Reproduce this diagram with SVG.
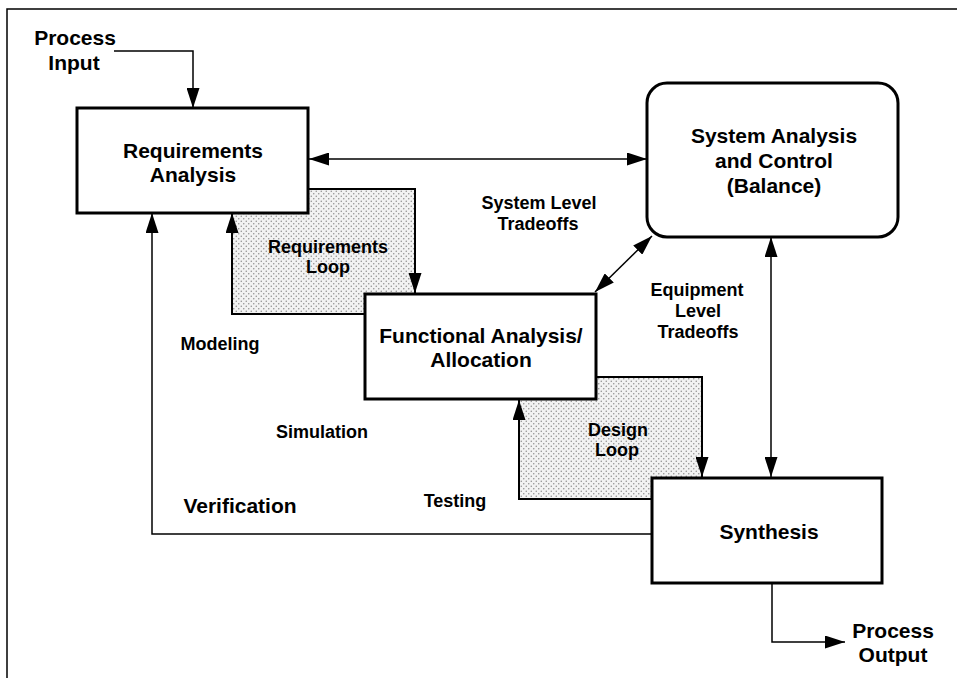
<svg xmlns="http://www.w3.org/2000/svg" width="957" height="678" viewBox="0 0 957 678">
<style>
text{font-family:"Liberation Sans",Arial,sans-serif;font-weight:bold;fill:#000;text-anchor:middle}
.big{font-size:21px}
.sm{font-size:18px}
.box{fill:#fff;stroke:#000;stroke-width:3}
.loop{fill:url(#dots);stroke:#000;stroke-width:2}
.c{fill:none;stroke:#000;stroke-width:1.5}
.c2{fill:none;stroke:#000;stroke-width:2}
</style>
<defs>
<pattern id="dots" width="5" height="5" patternUnits="userSpaceOnUse">
<rect width="5" height="5" fill="#f2f2f2"/>
<circle cx="1.25" cy="1.25" r="0.75" fill="#8c8c8c"/>
<circle cx="3.75" cy="3.75" r="0.75" fill="#8c8c8c"/>
</pattern>
<marker id="ah" markerUnits="userSpaceOnUse" markerWidth="20" markerHeight="13" viewBox="0 0 20 13" refX="20" refY="6.5" orient="auto-start-reverse">
<path d="M0,0 L20,6.5 L0,13 z" fill="#000"/>
</marker>
</defs>

<g id="frame">
<path d="M7,678 V9 H957" class="c"/>
</g>

<g id="loops">
<g id="requirements-loop">
<rect x="232" y="189" width="183" height="125" class="loop"/>
<text class="sm" x="328" y="253">Requirements</text>
<text class="sm" x="328" y="273">Loop</text>
</g>
<g id="design-loop">
<rect x="519" y="377" width="183" height="122" class="loop"/>
<text class="sm" x="618" y="436">Design</text>
<text class="sm" x="617" y="456">Loop</text>
</g>
</g>

<g id="requirements-analysis">
<rect x="77" y="108" width="231" height="105" class="box"/>
<text class="big" x="193" y="158">Requirements</text>
<text class="big" x="193" y="182">Analysis</text>
</g>

<g id="system-analysis">
<rect x="647" y="83" width="251" height="154" rx="20" ry="20" class="box"/>
<text class="big" x="774" y="143">System Analysis</text>
<text class="big" x="774" y="168">and Control</text>
<text class="big" x="774" y="193">(Balance)</text>
</g>

<g id="functional-analysis">
<rect x="365" y="294" width="231" height="105" class="box"/>
<text class="big" x="481" y="343">Functional Analysis/</text>
<text class="big" x="481" y="367">Allocation</text>
</g>

<g id="synthesis">
<rect x="652" y="478" width="230" height="105" class="box"/>
<text class="big" x="769" y="539">Synthesis</text>
</g>

<g id="connectors">
<path d="M114,51 H193 V108" class="c" marker-end="url(#ah)"/>
<path d="M309,159 H647" class="c" marker-start="url(#ah)" marker-end="url(#ah)"/>
<path d="M595,292 L652,236" class="c" marker-start="url(#ah)" marker-end="url(#ah)"/>
<path d="M771,237 V477" class="c" marker-start="url(#ah)" marker-end="url(#ah)"/>
<path d="M232,314 V213" class="c2" marker-end="url(#ah)"/>
<path d="M415,189 V293" class="c2" marker-end="url(#ah)"/>
<path d="M519,499 V400" class="c2" marker-end="url(#ah)"/>
<path d="M702,377 V477" class="c2" marker-end="url(#ah)"/>
<path d="M652,534 H152 V213" class="c" marker-end="url(#ah)"/>
<path d="M772,583 V642 H845" class="c" marker-end="url(#ah)"/>
</g>

<g id="labels">
<text class="big" x="75" y="45">Process</text>
<text class="big" x="74" y="70">Input</text>
<text class="sm" x="539" y="209">System Level</text>
<text class="sm" x="538" y="230">Tradeoffs</text>
<text class="sm" x="697" y="296">Equipment</text>
<text class="sm" x="698" y="317">Level</text>
<text class="sm" x="698" y="338">Tradeoffs</text>
<text class="sm" x="220" y="350">Modeling</text>
<text class="sm" x="322" y="438">Simulation</text>
<text class="sm" x="455" y="507">Testing</text>
<text class="big" x="240" y="513">Verification</text>
<text class="big" x="893" y="638">Process</text>
<text class="big" x="893" y="662">Output</text>
</g>
</svg>
